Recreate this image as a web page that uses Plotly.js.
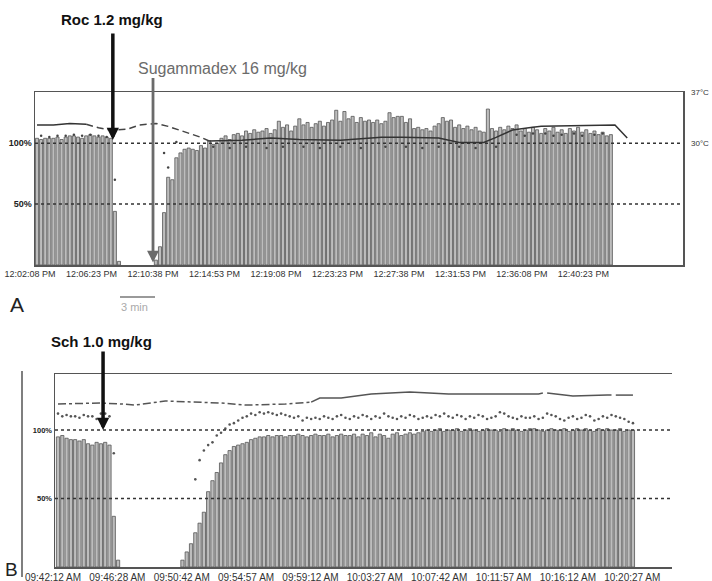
<!DOCTYPE html>
<html><head><meta charset="utf-8">
<script src="https://cdn.plot.ly/plotly-3.0.1.min.js"></script>
<style>html,body{margin:0;padding:0;background:#fff}#chart{width:712px;height:581px}</style>
</head><body><div id="chart"></div>
<script>
const W = 712, H = 581;
const samplesPerTick = 15;

// ---------- Panel A (rocuronium / sugammadex) ----------
const tickLabelsA = ['12:02:08 PM','12:06:23 PM','12:10:38 PM','12:14:53 PM','12:19:08 PM','12:23:23 PM','12:27:38 PM','12:31:53 PM','12:36:08 PM','12:40:23 PM'];
const t1A = [
  104,103,104,104,104,105,103,105,106,106,105,104,106,107,106,105,106,105,104,
  44,3,
  null,null,null,null,null,null,null,null,
  4,15,43,72,70,88,92,95,96,95,94,98,96,102,99,100,
  104,106,103,107,108,106,110,108,111,109,
  110,112,108,111,118,113,115,110,114,120,
  115,117,113,116,118,114,117,119,127,118,
  126,120,122,117,121,118,119,117,119,116,
  118,125,121,122,122,117,120,112,113,111,
  112,110,114,116,121,118,119,113,115,112,
  114,111,113,110,109,128,112,110,113,111,
  114,112,115,110,112,109,113,111,108,112,
  110,113,109,111,108,112,110,113,109,111,
  108,110,107,109,106,107
];
const ratioAx = [1,3,5,7,9,11,13,15,17,19,31,32,34,43,47,51,56,60,65,69,74,79,85,90,94,98,103,107,112,117,119,121,124,126,128,131,133,136,138];
const ratioAy = [106,105,106,106,107,106,107,106,105,70,92,80,101,97,96,97,96,97,97,96,97,96,97,97,96,97,97,96,97,107,106,108,108,106,107,108,106,107,108];
const tempAx = [0,4,8,12,15,18,22,25,29,32,36,40,42,50,57,64,74,84,89,98,103,109,112,116,120,123,141,144];
const tempAv = [32.5,32.5,32.7,32.6,32.1,31.8,31.9,32.5,32.7,32.3,31.6,30.8,30.3,30.4,30.7,30.5,30.4,30.8,30.8,30.7,30.1,30.1,30.8,31.8,32.1,32.3,32.5,30.7];
const tempATicks = [30, 37];
const tempATickText = ['30°C', '37°C'];

// ---------- Panel B (succinylcholine) ----------
const tickLabelsB = ['09:42:12 AM','09:46:28 AM','09:50:42 AM','09:54:57 AM','09:59:12 AM','10:03:27 AM','10:07:42 AM','10:11:57 AM','10:16:12 AM','10:20:27 AM'];
const t1B = [
  95,96,94,93,93,92,93,90,89,91,90,91,89,
  37,5,
  null,null,null,null,null,null,null,null,null,null,null,null,null,null,
  5,11,17,25,32,40,55,63,69,76,82,85,88,89,90,91,93,94,95,
  95,96,95,96,96,95,96,96,97,96,95,96,97,96,96,97,95,96,97,96,
  96,97,95,97,96,98,95,97,96,94,97,98,96,97,98,97,98,
  99,100,99,100,101,99,100,100,101,99,
  100,101,100,99,100,101,100,100,99,101,
  100,101,100,99,100,101,101,100,99,100,
  101,100,100,101,99,100,101,100,101,100,
  99,101,100,101,100,100,101,99,100,100
];
const ratioB = [
  112,110,111,110,110,109,111,110,110,108,112,112,110,
  83,
  null,null,null,null,null,null,null,null,null,null,null,null,null,null,null,null,null,null,
  64,78,85,89,91,96,98,101,104,105,107,109,110,112,111,113,112,113,
  112,111,112,111,110,109,110,107,109,108,
  109,108,110,109,108,110,111,109,108,110,
  109,111,110,108,110,109,112,110,109,108,
  110,109,111,110,108,109,110,109,111,110,
  112,110,109,111,110,108,110,109,111,110,
  108,109,110,113,112,110,109,108,110,109,
  109,110,108,109,112,111,110,108,107,109,
  110,108,109,111,110,107,108,110,109,111,
  110,109,108,106,105
];
const tempBx = [0,10,15,18,25,31,38,44,53,59,61,66,73,82,88,91,112,113,null,114,120,128,129,null,130,134];
const tempBv = [119,119.7,119,118.2,121.2,120.4,119.7,118.2,119,120.4,123.4,123.4,126.3,127.7,127,126.3,126.3,127,null,127,124.8,125.5,125.5,null,125.5,125.5];

const gridLevels = [50, 100];
const gridLabels = ['50%', '100%'];

// events: sample index (time) of drug administration
const eventLabels = ['Roc 1.2 mg/kg', 'Sugammadex 16 mg/kg', 'Sch 1.0 mg/kg'];
const eventSample = [18.5, 28.3, 10.5];

// ---------- build ----------
const xA = t1A.map((_, i) => i);
const xB = t1B.map((_, i) => i);
const barMarker = {color: '#bdbdbd', line: {color: '#555', width: 0.8}};

const traces = [
  {type: 'bar', x: xA, y: t1A, xaxis: 'x', yaxis: 'y', marker: barMarker, hoverinfo: 'skip'},
  {type: 'scatter', mode: 'lines', x: tempAx.slice(0, 4), y: tempAv.slice(0, 4), xaxis: 'x', yaxis: 'y3',
   line: {color: '#333', width: 1.5}, hoverinfo: 'skip'},
  {type: 'scatter', mode: 'lines', x: tempAx.slice(3, 13), y: tempAv.slice(3, 13), xaxis: 'x', yaxis: 'y3',
   line: {color: '#444', width: 1.5, dash: '7px,4px'}, hoverinfo: 'skip'},
  {type: 'scatter', mode: 'lines', x: tempAx.slice(12), y: tempAv.slice(12), xaxis: 'x', yaxis: 'y3',
   line: {color: '#333', width: 1.5}, hoverinfo: 'skip'},
  {type: 'scatter', mode: 'markers', x: ratioAx, y: ratioAy, xaxis: 'x', yaxis: 'y',
   marker: {size: 2.5, color: '#444'}, hoverinfo: 'skip'},

  {type: 'bar', x: xB, y: t1B, xaxis: 'x2', yaxis: 'y2', marker: barMarker, hoverinfo: 'skip'},
  {type: 'scatter', mode: 'lines', x: tempBx.slice(0, 10), y: tempBv.slice(0, 10), xaxis: 'x2', yaxis: 'y2',
   line: {color: '#555', width: 1.5, dash: '8px,3px,3px,3px'}, hoverinfo: 'skip'},
  {type: 'scatter', mode: 'lines', x: tempBx.slice(9), y: tempBv.slice(9), xaxis: 'x2', yaxis: 'y2',
   line: {color: '#555', width: 1.5}, connectgaps: false, hoverinfo: 'skip'},
  {type: 'scatter', mode: 'markers', x: xB, y: ratioB, xaxis: 'x2', yaxis: 'y2',
   marker: {size: 2.6, color: '#555'}, hoverinfo: 'skip'}
];

const font = 'Liberation Sans, Arial, sans-serif';
const boxLine = {showline: true, linecolor: '#555', linewidth: 1.5, zeroline: false, showgrid: false, ticks: ''};

const shapes = [];
gridLevels.forEach(v => {
  shapes.push({type: 'line', xref: 'x domain', yref: 'y', x0: 0, x1: 1, y0: v, y1: v, layer: 'above',
               line: {color: '#333', width: 1.5, dash: 'dot'}});
  shapes.push({type: 'line', xref: 'x2 domain', yref: 'y2', x0: 0, x1: 1, y0: v, y1: v, layer: 'above',
               line: {color: '#333', width: 1.5, dash: 'dot'}});
});
// outer left rule of panel B
shapes.push({type: 'line', xref: 'paper', yref: 'paper', x0: 22 / W, x1: 22 / W, y0: 4 / H, y1: 210 / H,
             line: {color: '#555', width: 1.5}});
// 3 min scale bar
shapes.push({type: 'line', xref: 'paper', yref: 'paper', x0: 120 / W, x1: 155 / W, y0: 1 - 297 / H, y1: 1 - 297 / H,
             line: {color: '#9a9a9a', width: 2}});

const P = (px, py) => ({xref: 'paper', yref: 'paper', x: px / W, y: 1 - py / H, xanchor: 'center', yanchor: 'middle', showarrow: false});
const annotations = [
  Object.assign(P(112, 19), {text: eventLabels[0], font: {family: font, size: 15, weight: 'bold', color: '#111'}}),
  Object.assign(P(222, 69), {text: eventLabels[1], font: {family: font, size: 16, color: '#6b6b6b'}}),
  Object.assign(P(102, 341), {text: eventLabels[2], font: {family: font, size: 15, weight: 'bold', color: '#111'}}),
  Object.assign(P(17, 304), {text: 'A', font: {family: font, size: 21, color: '#222'}}),
  Object.assign(P(11, 569), {text: 'B', font: {family: font, size: 19, color: '#222'}}),
  Object.assign(P(134, 307), {text: '3 min', font: {family: font, size: 11, color: '#aaa'}}),
  {xref: 'x', yref: 'y', x: eventSample[0], y: 102.6, ax: 0, ay: -108, text: '', showarrow: true,
   arrowhead: 2, arrowsize: 0.7, arrowwidth: 3.5, arrowcolor: '#111'},
  {xref: 'x', yref: 'y', x: eventSample[1], y: 2, ax: 0, ay: -186, text: '', showarrow: true,
   arrowhead: 2, arrowsize: 0.85, arrowwidth: 2.8, arrowcolor: '#6b6b6b'},
  {xref: 'x2', yref: 'y2', x: eventSample[2], y: 100, ax: 0, ay: -80, text: '', showarrow: true,
   arrowhead: 2, arrowsize: 0.7, arrowwidth: 3.5, arrowcolor: '#111'}
];

const layout = {
  width: W, height: H, margin: {l: 0, r: 0, t: 0, b: 0}, showlegend: false,
  bargap: 0.25, paper_bgcolor: '#fff', plot_bgcolor: 'rgba(0,0,0,0)',
  font: {family: font, color: '#222'},
  xaxis: Object.assign({}, boxLine, {domain: [35 / W, 683 / W], range: [-0.49, 157.6], anchor: 'y', mirror: true,
    tickvals: tickLabelsA.map((_, i) => i * samplesPerTick), ticktext: tickLabelsA,
    tickfont: {size: 9, color: '#333'}, ticklabelshift: -7}),
  yaxis: Object.assign({}, boxLine, {domain: [316 / H, 489 / H], range: [0, 142], anchor: 'x', mirror: true,
    tickvals: gridLevels, ticktext: gridLabels, tickfont: {size: 9, color: '#222', weight: 'bold'}}),
  yaxis3: {overlaying: 'y', side: 'right', anchor: 'x', range: [13.34, 37], tickvals: tempATicks, ticktext: tempATickText,
    showgrid: false, zeroline: false, showline: false, ticks: '', tickfont: {size: 8, color: '#333'}, ticklabelstandoff: 7},
  xaxis2: Object.assign({}, boxLine, {domain: [55 / W, 672 / W], range: [-0.7, 143.1], anchor: 'y2', mirror: true,
    tickvals: tickLabelsB.map((_, i) => i * samplesPerTick), ticktext: tickLabelsB,
    tickfont: {size: 10, color: '#333'}, ticklabelshift: -5}),
  yaxis2: Object.assign({}, boxLine, {domain: [14 / H, 207 / H], range: [0, 140.9], anchor: 'x2', mirror: false,
    tickvals: gridLevels, ticktext: gridLabels, tickfont: {size: 7.5, color: '#222', weight: 'bold'}}),
  shapes: shapes,
  annotations: annotations
};

Plotly.newPlot('chart', traces, layout, {staticPlot: true, displayModeBar: false});
</script>
</body></html>
